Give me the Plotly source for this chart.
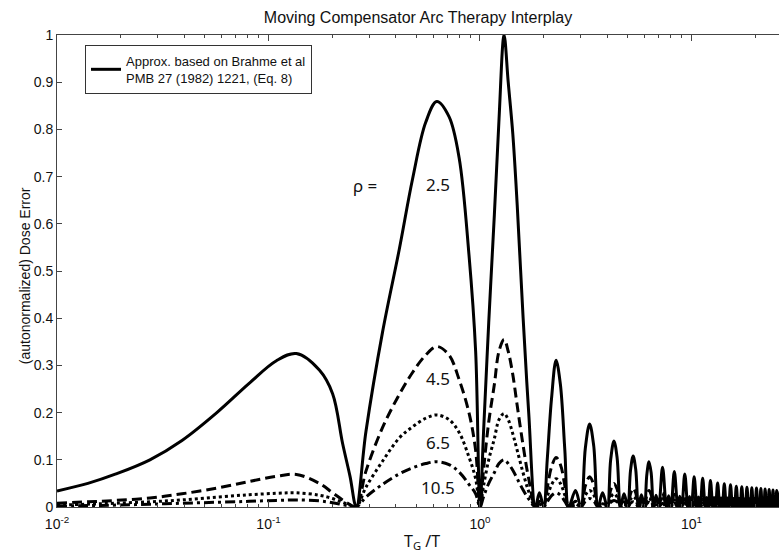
import plotly.graph_objects as go

# ---------------- data ----------------
x_left = [0.01, 0.014, 0.019, 0.0275, 0.039, 0.057, 0.081, 0.109, 0.1355, 0.174,
          0.201, 0.224, 0.243, 0.26, 0.289, 0.346, 0.415, 0.48, 0.554, 0.625,
          0.714, 0.797, 0.887, 0.954, 1.0]
x_mid = [1.04, 1.1, 1.17, 1.23, 1.3, 1.36, 1.43, 1.5, 1.6, 1.7,
         1.83, 1.91, 2.0, 2.08, 2.18, 2.29, 2.4, 2.52, 2.63, 2.83, 3.0]
x_tail = [3.15, 3.3, 3.45, 3.62, 3.8,
          4.0, 4.15, 4.3, 4.45, 4.62, 4.8,
          5.0, 5.15, 5.3, 5.45, 5.62, 5.8,
          6.0, 6.15, 6.3, 6.45, 6.62, 6.8,
          7.0, 7.3, 7.62, 7.8,
          8.0, 8.3, 8.62, 8.8,
          9.0, 9.3, 9.62, 9.8,
          10.0, 10.3, 10.62, 10.8,
          11.0, 11.3, 11.62, 11.8,
          12.0, 12.3, 12.62, 12.8,
          13.0, 13.3, 13.62, 13.8,
          14.0, 14.3, 14.62, 14.8,
          15.0, 15.3, 15.62, 15.8,
          16.0, 16.3, 16.62, 16.8,
          17.0, 17.3, 17.62, 17.8,
          18.0, 18.3, 18.62, 18.8,
          19.0, 19.3, 19.62, 19.8,
          20.0, 20.3, 20.62, 20.8,
          21.0, 21.3, 21.62, 21.8,
          22.0, 22.3, 22.62, 22.8,
          23.0, 23.3, 23.62, 23.8,
          24.0, 24.3, 24.62, 24.8,
          25.0, 25.3, 25.62, 25.8,
          26.0, 26.3, 26.62]

# rho = 2.5 (solid)
y25_left = [0.034, 0.05, 0.07, 0.10, 0.141, 0.2, 0.262, 0.31, 0.325, 0.29,
            0.24, 0.135, 0.065, 0.0, 0.16, 0.37, 0.545, 0.695, 0.815, 0.859,
            0.827, 0.74, 0.535, 0.33, 0.0]
y25_mid = [0.16, 0.39, 0.62, 0.82, 1.0, 0.9, 0.79, 0.64, 0.4, 0.2,
           0.0, 0.03, 0.0, 0.1, 0.23, 0.311, 0.26, 0.12, 0.0, 0.035, 0.0]
y25_tail = [0.125, 0.176, 0.13, 0.0, 0.03,
            0.0, 0.1, 0.14, 0.105, 0.0, 0.028,
            0.0, 0.077, 0.108, 0.08, 0.0, 0.026,
            0.0, 0.068, 0.096, 0.072, 0.0, 0.025,
            0.0, 0.084, 0.0, 0.024,
            0.0, 0.075, 0.0, 0.023,
            0.0, 0.07, 0.0, 0.022,
            0.0, 0.064, 0.0, 0.021,
            0.0, 0.061, 0.0, 0.02,
            0.0, 0.056, 0.0, 0.02,
            0.0, 0.051, 0.0, 0.019,
            0.0, 0.049, 0.0, 0.019,
            0.0, 0.047, 0.0, 0.018,
            0.0, 0.044, 0.0, 0.018,
            0.0, 0.043, 0.0, 0.017,
            0.0, 0.042, 0.0, 0.017,
            0.0, 0.041, 0.0, 0.017,
            0.0, 0.04, 0.0, 0.016,
            0.0, 0.039, 0.0, 0.016,
            0.0, 0.038, 0.0, 0.016,
            0.0, 0.037, 0.0, 0.015,
            0.0, 0.036, 0.0, 0.015,
            0.0, 0.035, 0.0, 0.015,
            0.0, 0.034, 0.0]

# rho = 4.5 (dashed)
y45_left = [0.008, 0.011, 0.014, 0.019, 0.028, 0.04, 0.054, 0.065, 0.069, 0.05,
            0.03, 0.015, 0.005, 0.0, 0.076, 0.168, 0.238, 0.285, 0.322, 0.34,
            0.322, 0.27, 0.2, 0.12, 0.0]
y45_mid = [0.08, 0.18, 0.26, 0.33, 0.355, 0.33, 0.28, 0.215, 0.13, 0.06,
           0.0, 0.012, 0.0, 0.04, 0.085, 0.105, 0.09, 0.045, 0.0, 0.012, 0.0]
y45_tail = [0.045, 0.064, 0.047, 0.0, 0.012,
            0.0, 0.036, 0.05, 0.038, 0.0, 0.011,
            0.0, 0.028, 0.04, 0.03, 0.0, 0.01,
            0.0, 0.025, 0.035, 0.026, 0.0, 0.01,
            0.0, 0.03, 0.0, 0.009,
            0.0, 0.027, 0.0, 0.009,
            0.0, 0.025, 0.0, 0.008,
            0.0, 0.023, 0.0, 0.008,
            0.0, 0.022, 0.0, 0.008,
            0.0, 0.02, 0.0, 0.007,
            0.0, 0.019, 0.0, 0.007,
            0.0, 0.018, 0.0, 0.007,
            0.0, 0.017, 0.0, 0.006,
            0.0, 0.016, 0.0, 0.006,
            0.0, 0.016, 0.0, 0.006,
            0.0, 0.015, 0.0, 0.006,
            0.0, 0.015, 0.0, 0.005,
            0.0, 0.014, 0.0, 0.005,
            0.0, 0.014, 0.0, 0.005,
            0.0, 0.014, 0.0, 0.005,
            0.0, 0.013, 0.0, 0.005,
            0.0, 0.013, 0.0, 0.005,
            0.0, 0.013, 0.0, 0.005,
            0.0, 0.012, 0.0]

# rho = 6.5 (dotted)
y65_left = [0.004, 0.006, 0.008, 0.011, 0.015, 0.021, 0.026, 0.029, 0.03, 0.025,
            0.018, 0.01, 0.004, 0.0, 0.042, 0.097, 0.146, 0.17, 0.188, 0.195,
            0.185, 0.158, 0.106, 0.06, 0.0]
y65_mid = [0.045, 0.1, 0.145, 0.185, 0.198, 0.185, 0.155, 0.12, 0.072, 0.033,
           0.0, 0.007, 0.0, 0.022, 0.047, 0.06, 0.05, 0.025, 0.0, 0.007, 0.0]
y65_tail = [0.025, 0.035, 0.026, 0.0, 0.007,
            0.0, 0.02, 0.028, 0.021, 0.0, 0.006,
            0.0, 0.016, 0.022, 0.017, 0.0, 0.006,
            0.0, 0.014, 0.019, 0.014, 0.0, 0.005,
            0.0, 0.017, 0.0, 0.005,
            0.0, 0.015, 0.0, 0.005,
            0.0, 0.014, 0.0, 0.004,
            0.0, 0.013, 0.0, 0.004,
            0.0, 0.012, 0.0, 0.004,
            0.0, 0.011, 0.0, 0.004,
            0.0, 0.01, 0.0, 0.004,
            0.0, 0.01, 0.0, 0.003,
            0.0, 0.009, 0.0, 0.003,
            0.0, 0.009, 0.0, 0.003,
            0.0, 0.009, 0.0, 0.003,
            0.0, 0.008, 0.0, 0.003,
            0.0, 0.008, 0.0, 0.003,
            0.0, 0.008, 0.0, 0.003,
            0.0, 0.008, 0.0, 0.003,
            0.0, 0.008, 0.0, 0.003,
            0.0, 0.007, 0.0, 0.003,
            0.0, 0.007, 0.0, 0.003,
            0.0, 0.007, 0.0, 0.003,
            0.0, 0.007, 0.0]

# rho = 10.5 (dash-dot)
y105_left = [0.002, 0.003, 0.004, 0.006, 0.008, 0.01, 0.012, 0.014, 0.015, 0.013,
             0.009, 0.005, 0.002, 0.0, 0.021, 0.048, 0.07, 0.083, 0.092, 0.096,
             0.09, 0.074, 0.048, 0.028, 0.0]
y105_mid = [0.022, 0.05, 0.073, 0.092, 0.1, 0.092, 0.078, 0.06, 0.036, 0.017,
            0.0, 0.004, 0.0, 0.011, 0.024, 0.03, 0.025, 0.012, 0.0, 0.004, 0.0]
y105_tail = [0.012, 0.018, 0.013, 0.0, 0.004,
             0.0, 0.01, 0.014, 0.011, 0.0, 0.003,
             0.0, 0.008, 0.011, 0.008, 0.0, 0.003,
             0.0, 0.007, 0.01, 0.007, 0.0, 0.003,
             0.0, 0.008, 0.0, 0.002,
             0.0, 0.008, 0.0, 0.002,
             0.0, 0.007, 0.0, 0.002,
             0.0, 0.006, 0.0, 0.002,
             0.0, 0.006, 0.0, 0.002,
             0.0, 0.006, 0.0, 0.002,
             0.0, 0.005, 0.0, 0.002,
             0.0, 0.005, 0.0, 0.002,
             0.0, 0.005, 0.0, 0.002,
             0.0, 0.004, 0.0, 0.001,
             0.0, 0.004, 0.0, 0.001,
             0.0, 0.004, 0.0, 0.001,
             0.0, 0.004, 0.0, 0.001,
             0.0, 0.004, 0.0, 0.001,
             0.0, 0.004, 0.0, 0.001,
             0.0, 0.004, 0.0, 0.001,
             0.0, 0.004, 0.0, 0.001,
             0.0, 0.004, 0.0, 0.001,
             0.0, 0.004, 0.0, 0.001,
             0.0, 0.004, 0.0]

rho_labels = ["2.5", "4.5", "6.5", "10.5"]
rho_label_y = [0.684, 0.273, 0.136, 0.042]

x_tick_vals = [0.01, 0.1, 1, 10]
x_tick_text = ["10<sup>-2</sup>", "10<sup>-1</sup>", "10<sup>0</sup>", "10<sup>1</sup>"]
x_minor_vals = [0.02, 0.03, 0.04, 0.05, 0.06, 0.07, 0.08, 0.09,
                0.2, 0.3, 0.4, 0.5, 0.6, 0.7, 0.8, 0.9,
                2, 3, 4, 5, 6, 7, 8, 9, 20, 30]
y_tick_vals = [0, 0.1, 0.2, 0.3, 0.4, 0.5, 0.6, 0.7, 0.8, 0.9, 1]
y_tick_text = ["0", "0.1", "0.2", "0.3", "0.4", "0.5", "0.6", "0.7", "0.8", "0.9", "1"]

legend_name = "Approx. based on Brahme et al<br>PMB 27 (1982) 1221, (Eq. 8)"

# ---------------- figure ----------------
x_all = x_left + x_mid + x_tail
series = [
    (y105_left + y105_mid + y105_tail, "10px,4px,3px,4px", False),
    (y65_left + y65_mid + y65_tail, "3px,3px", False),
    (y45_left + y45_mid + y45_tail, "10px,5px", False),
    (y25_left + y25_mid + y25_tail, "solid", True),
]

fig = go.Figure()
for ys, dash, show in series:
    assert len(ys) == len(x_all)
    fig.add_trace(go.Scatter(
        x=x_all, y=ys, mode="lines",
        line=dict(color="black", width=3, dash=dash, shape="spline", smoothing=1.0),
        name=legend_name if show else "", showlegend=show, hoverinfo="skip"))

axis_font = dict(family="Liberation Sans, Arial, sans-serif", size=14, color="#111")

fig.update_layout(
    width=779, height=554,
    margin=dict(l=57, r=0, t=35, b=47),
    paper_bgcolor="white", plot_bgcolor="white",
    title=dict(text="Moving Compensator Arc Therapy Interplay",
               x=0.5, xref="paper", xanchor="center",
               y=1 - 17 / 554, yref="container", yanchor="middle",
               font=dict(family="Liberation Sans, Arial, sans-serif", size=16, color="#111")),
    showlegend=True,
    legend=dict(x=0.0388, y=0.979, xanchor="left", yanchor="top",
                bgcolor="white", bordercolor="#333", borderwidth=1,
                font=dict(family="Liberation Sans, Arial, sans-serif", size=13, color="#111"),
                tracegroupgap=0, itemwidth=30),
    xaxis=dict(type="log", range=[-2, 1.414],
               tickmode="array", tickvals=x_tick_vals, ticktext=x_tick_text,
               ticks="inside", ticklen=6, tickcolor="#444", ticklabelstandoff=4,
               minor=dict(tickmode="array", tickvals=x_minor_vals, ticks="inside",
                          ticklen=3, tickcolor="#444", showgrid=False),
               showline=True, linecolor="#444", linewidth=1, mirror="ticks",
               showgrid=False, zeroline=False, tickfont=axis_font),
    yaxis=dict(range=[0, 1], tickmode="array", tickvals=y_tick_vals, ticktext=y_tick_text,
               ticks="inside", ticklen=5, tickcolor="#444",
               showline=True, linecolor="#444", linewidth=1, mirror=False,
               showgrid=False, zeroline=False, tickfont=axis_font),
)

# axis titles
fig.add_annotation(text="(autonormalized) Dose Error", textangle=-90,
                   xref="paper", yref="paper", x=(25 - 57) / 722, y=0.489,
                   xanchor="center", yanchor="middle", showarrow=False,
                   font=dict(family="Liberation Sans, Arial, sans-serif", size=14, color="#111"))
fig.add_annotation(text="T<sub>G</sub> /T", xref="paper", yref="paper",
                   x=(422 - 57) / 722, y=-(541 - 507) / 472,
                   xanchor="center", yanchor="middle", showarrow=False,
                   font=dict(family="Noto Sans, sans-serif", size=16, color="#111"))

# rho labels
fig.add_annotation(text="ρ =", xref="paper", yref="y", x=(365 - 57) / 722, y=0.682,
                   xanchor="center", yanchor="middle", showarrow=False,
                   font=dict(family="Noto Sans, sans-serif", size=17, color="#111"))
for lab, ly in zip(rho_labels, rho_label_y):
    fig.add_annotation(text=lab, xref="paper", yref="y", x=(438 - 57) / 722, y=ly,
                       xanchor="center", yanchor="middle", showarrow=False,
                       font=dict(family="Noto Sans, sans-serif", size=17, color="#111"))

fig.write_html("out.html", config={"displayModeBar": False},
               post_script="document.body.style.margin='0';document.body.style.overflow='hidden';")
